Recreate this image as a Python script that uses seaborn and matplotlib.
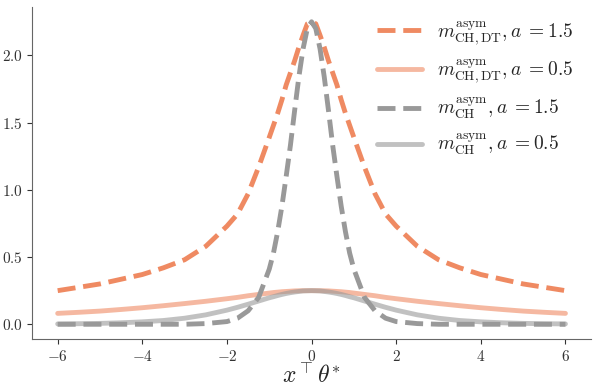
import numpy as np
import pandas as pd
import matplotlib
matplotlib.use("Agg")
import matplotlib.pyplot as plt
import seaborn as sns

# x grid (finer near the peak)
x_half = [0.0, 0.1, 0.2, 0.3, 0.4, 0.5, 0.6, 0.7, 0.8, 0.9, 1.0,
          1.25, 1.5, 1.75, 2.0, 2.5, 3.0, 3.5, 4.0, 4.5, 5.0, 5.5, 6.0]

# values for x >= 0 (curves are symmetric)
ch_dt_15 = [2.25, 2.235, 2.15, 2.06, 1.96, 1.87, 1.78, 1.67, 1.57, 1.48, 1.39,
            1.17, 0.97, 0.82, 0.73, 0.58, 0.48, 0.42, 0.37, 0.335, 0.30, 0.275, 0.25]
ch_dt_05 = [0.25, 0.2499, 0.2495, 0.249, 0.248, 0.246, 0.244, 0.242, 0.239, 0.236, 0.232,
            0.222, 0.212, 0.200, 0.190, 0.171, 0.154, 0.138, 0.123, 0.110, 0.098, 0.089, 0.081]
ch_15 = [2.25, 2.20, 2.05, 1.84, 1.59, 1.33, 1.10, 0.88, 0.69, 0.53, 0.41,
         0.20, 0.10, 0.045, 0.02, 0.005, 0.0, 0.0, 0.0, 0.0, 0.0, 0.0, 0.0]
ch_05 = [0.25, 0.249, 0.248, 0.244, 0.240, 0.235, 0.229, 0.222, 0.214, 0.205, 0.197,
         0.173, 0.149, 0.126, 0.105, 0.070, 0.045, 0.028, 0.018, 0.011, 0.0066, 0.004, 0.0025]

labels = [r"$m^{\rm asym}_{\rm CH,DT}, a\;{=}$1.5",
          r"$m^{\rm asym}_{\rm CH,DT}, a\;{=}$0.5",
          r"$m^{\rm asym}_{\rm CH}, a\;{=}$1.5",
          r"$m^{\rm asym}_{\rm CH}, a\;{=}$0.5"]


def mirror(vals):
    # full curve from the x >= 0 half
    return list(vals[:0:-1]) + list(vals)


x = [-v for v in x_half[:0:-1]] + x_half

sns.set_style("ticks")
plt.rcParams["font.family"] = "cmr10"
plt.rcParams["mathtext.fontset"] = "cm"
plt.rcParams["axes.formatter.use_mathtext"] = True
plt.rcParams["axes.edgecolor"] = "0.4"

orange = "#ef8a62"
gray = "#999999"

fig = plt.figure(figsize=(5.98, 3.91), dpi=100)
ax = fig.add_axes([0.054, 0.132, 0.934, 0.851])

series = [(ch_dt_15, orange, "--", 1.0),
          (ch_dt_05, orange, "-", 0.6),
          (ch_15, gray, "--", 1.0),
          (ch_05, gray, "-", 0.6)]

for (vals, col, ls, al), lab in zip(series, labels):
    df = pd.DataFrame({"x": x, "y": mirror(vals)})
    sns.lineplot(data=df, x="x", y="y", ax=ax, color=col, linestyle=ls,
                 alpha=al, linewidth=3.5, label=lab)

ax.set_xticks([-6, -4, -2, 0, 2, 4, 6])
ax.set_yticks([0.0, 0.5, 1.0, 1.5, 2.0])
ax.tick_params(labelsize=11, colors="0.2", length=3.5)
ax.set_xlabel(r"$x^{\top}\theta^{*}$", fontsize=17, labelpad=0)
ax.set_ylabel("")
sns.despine(ax=ax)

ax.legend(loc="upper right", bbox_to_anchor=(0.983, 0.986), frameon=False,
          fontsize=14, handlelength=2.3, borderaxespad=0, labelspacing=0.55,
          handletextpad=0.8)

fig.savefig("out.png", dpi=100)
